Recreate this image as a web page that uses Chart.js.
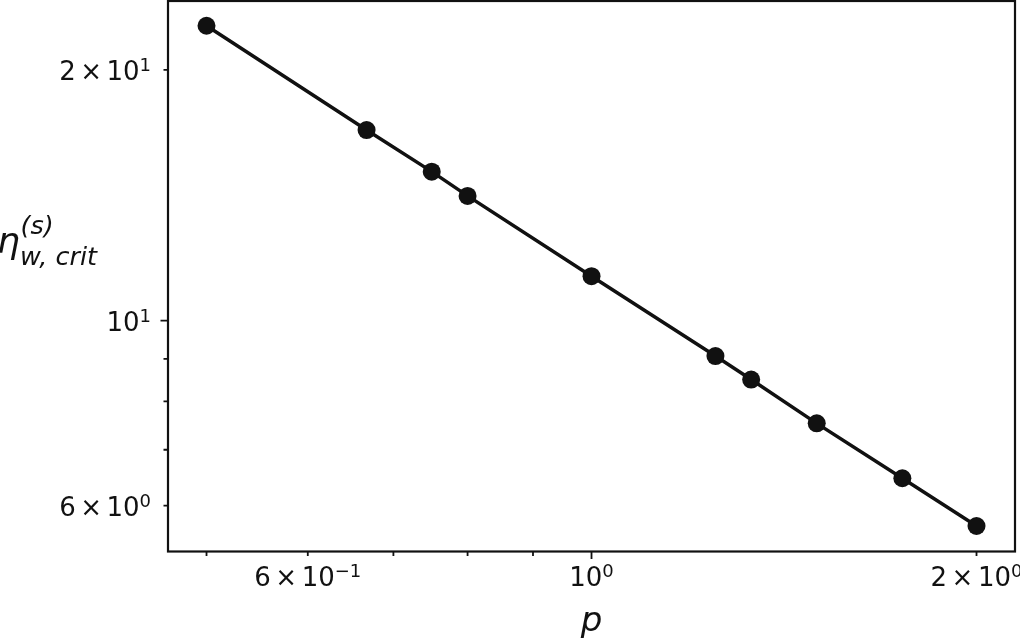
<!DOCTYPE html>
<html>
<head>
<meta charset="utf-8">
<script src="https://cdn.jsdelivr.net/npm/chart.js@4.4.1/dist/chart.umd.min.js"></script>
<style>
    html, body { margin: 0; padding: 0; background: #ffffff; }
    #etaChart { display: block; }
</style>
</head>
<body>
<canvas id="etaChart" width="1020" height="641"></canvas>
<script>
// values (log-log plot)
var pValues = [0.5, 0.667, 0.75, 0.8, 1.0, 1.25, 1.333, 1.5, 1.75, 2.0];
var etaValues = [22.6, 16.94, 15.10, 14.12, 11.31, 9.07, 8.50, 7.53, 6.47, 5.67];

// labelled ticks: [mantissa, exponent]
var xTickValues = [0.6, 1, 2];
var xTickLabels = [['6', '−1'], ['', '0'], ['2', '0']];
var yTickValues = [6, 10, 20];
var yTickLabels = [['6', '0'], ['', '1'], ['2', '1']];

// tick marks (major = long, minor = short)
var xMajorTicks = [1];
var xMinorTicks = [0.5, 0.6, 0.7, 0.8, 0.9, 2];
var yMajorTicks = [10];
var yMinorTicks = [6, 7, 8, 9, 20];

var ink = '#111111';
var baseFont = '26px "DejaVu Sans"';
var supFont = '18px "DejaVu Sans"';
var timesGap = 4.5;
var supRaise = 8.5;

// pieces of "m × 10^e" with their widths
function sciPieces(ctx, label) {
    var parts = [];
    ctx.font = baseFont;
    if (label[0] !== '') {
        parts.push({ t: label[0], f: baseFont, dy: 0, w: ctx.measureText(label[0]).width + timesGap });
        parts.push({ t: '×', f: baseFont, dy: 0, w: ctx.measureText('×').width + timesGap });
    }
    parts.push({ t: '10', f: baseFont, dy: 0, w: ctx.measureText('10').width });
    ctx.font = supFont;
    parts.push({ t: label[1], f: supFont, dy: -supRaise, w: ctx.measureText(label[1]).width });
    return parts;
}

function drawSci(ctx, label, x, y, align) {
    var parts = sciPieces(ctx, label);
    var total = 0;
    parts.forEach(function(p) { total += p.w; });
    var cx = align === 'center' ? x - total / 2 : x - total;
    ctx.textAlign = 'left';
    ctx.textBaseline = 'alphabetic';
    parts.forEach(function(p) {
        ctx.font = p.f;
        ctx.fillText(p.t, cx, y + p.dy);
        cx += p.w;
    });
}

// frame, tick marks, tick labels and y label, drawn through the scales
var frameAndTicks = {
    id: 'frameAndTicks',
    afterDraw: function(chart) {
        var ctx = chart.ctx;
        var a = chart.chartArea;
        var xs = chart.scales.x;
        var ys = chart.scales.y;
        ctx.save();
        ctx.strokeStyle = ink;
        ctx.fillStyle = ink;
        ctx.lineWidth = 1.8;
        ctx.beginPath();
        xMajorTicks.concat(xMinorTicks).forEach(function(v) {
            var len = xMajorTicks.indexOf(v) >= 0 ? 7.5 : 4.5;
            var px = xs.getPixelForValue(v);
            ctx.moveTo(px, a.bottom);
            ctx.lineTo(px, a.bottom + len);
        });
        yMajorTicks.concat(yMinorTicks).forEach(function(v) {
            var len = yMajorTicks.indexOf(v) >= 0 ? 7.5 : 4.5;
            var py = ys.getPixelForValue(v);
            ctx.moveTo(a.left, py);
            ctx.lineTo(a.left - len, py);
        });
        ctx.stroke();

        ctx.lineWidth = 2.2;
        ctx.strokeRect(a.left, a.top, a.right - a.left, a.bottom - a.top);

        xTickValues.forEach(function(v, i) {
            drawSci(ctx, xTickLabels[i], xs.getPixelForValue(v), a.bottom + 34, 'center');
        });
        yTickValues.forEach(function(v, i) {
            drawSci(ctx, yTickLabels[i], a.left - 17, ys.getPixelForValue(v) + 10, 'right');
        });

        // y label: eta_{w,crit}^{(s)}
        ctx.textAlign = 'left';
        ctx.textBaseline = 'alphabetic';
        ctx.font = 'italic 36px "DejaVu Sans"';
        ctx.fillText('η', -3, 253);
        ctx.font = 'italic 25.5px "DejaVu Sans"';
        ctx.fillText('(s)', 20.5, 234);
        ctx.fillText('w, crit', 20, 265);
        ctx.restore();
    }
};

var points = [];
for (var i = 0; i < pValues.length; i++) {
    points.push({ x: pValues[i], y: etaValues[i] });
}

function noPadding(scale) {
    scale.paddingLeft = 0;
    scale.paddingRight = 0;
    scale.paddingTop = 0;
    scale.paddingBottom = 0;
}

var etaChart = new Chart(document.getElementById('etaChart'), {
    type: 'line',
    data: {
        datasets: [{
            data: points,
            borderColor: ink,
            borderWidth: 3.5,
            backgroundColor: ink,
            pointRadius: 9,
            pointBorderWidth: 0,
            pointBackgroundColor: ink,
            fill: false,
            tension: 0
        }]
    },
    options: {
        responsive: false,
        animation: false,
        devicePixelRatio: 1,
        layout: {
            autoPadding: false,
            padding: { left: 0, right: 5, top: 1, bottom: 0 }
        },
        plugins: {
            legend: { display: false },
            tooltip: { enabled: false }
        },
        scales: {
            x: {
                type: 'logarithmic',
                min: 0.4665,
                max: 2.1435,
                grid: { display: false, drawTicks: false },
                border: { display: false },
                ticks: { display: false },
                afterFit: function(scale) {
                    scale.height = 89.5;
                    noPadding(scale);
                },
                title: {
                    display: true,
                    text: 'p',
                    color: ink,
                    font: { family: 'DejaVu Sans', style: 'italic', size: 34, lineHeight: 1.1 },
                    padding: { top: 0, bottom: 0 }
                }
            },
            y: {
                type: 'logarithmic',
                min: 5.284,
                max: 24.20,
                grid: { display: false, drawTicks: false },
                border: { display: false },
                ticks: { display: false },
                afterFit: function(scale) {
                    scale.width = 168;
                    noPadding(scale);
                }
            }
        }
    },
    plugins: [frameAndTicks]
});
</script>
</body>
</html>
